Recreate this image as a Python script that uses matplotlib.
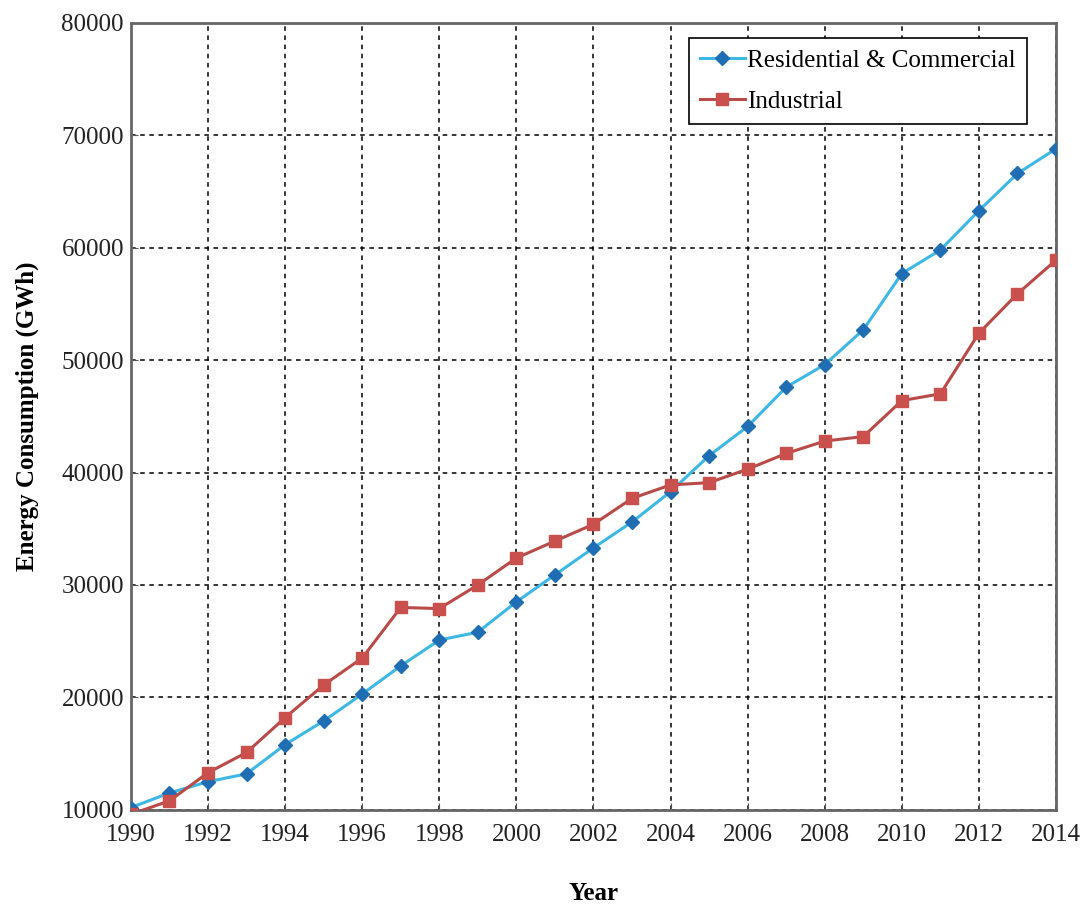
import numpy as np
import matplotlib.pyplot as plt

plt.rcParams['font.family'] = ['Liberation Serif', 'DejaVu Serif']

# Values (GWh)
years = list(range(1990, 2015))
residential = [10200, 11500, 12500, 13200, 15800, 17900, 20300, 22800, 25100, 25800,
               28500, 30900, 33300, 35600, 38300, 41500, 44100, 47600, 49600, 52700,
               57700, 59800, 63300, 66600, 68800]
industrial = [9600, 10800, 13300, 15100, 18200, 21100, 23500, 28000, 27900, 30000,
              32400, 33900, 35400, 37700, 38900, 39100, 40300, 41700, 42800, 43200,
              46400, 47000, 52400, 55900, 58900]
year_ticks = list(range(1990, 2015, 2))
value_ticks = list(range(10000, 80001, 10000))

fig = plt.figure(figsize=(10.82, 9.14), dpi=100)
ax = fig.add_axes([0.121, 0.114, 0.855, 0.861])

ax.plot(years, residential, color='#3db7e4', lw=2.2, marker='D', ms=7,
        mfc='#1f6db3', mec='#1f6db3', label='Residential & Commercial', zorder=3)
ax.plot(years, industrial, color='#b84a47', lw=2.2, marker='s', ms=8,
        mfc='#c9504c', mec='#c9504c', label='Industrial', zorder=3)

ax.set_xlim(1990, 2014)
ax.set_ylim(10000, 80000)
ax.set_xticks(year_ticks)
ax.set_yticks(value_ticks)
ax.tick_params(direction='in', labelsize=18, length=5, color='#555555',
               labelcolor='#222222')
ax.tick_params(axis='x', pad=10)
ax.tick_params(axis='y', pad=5)
ax.grid(True, color='black', linestyle=(0, (3, 3)), lw=1.1)

for s in ax.spines.values():
    s.set_color('#666666')
    s.set_linewidth(2)

ax.set_xlabel('Year', fontsize=18, fontweight='bold', labelpad=26)
ax.set_ylabel('Energy Consumption (GWh)', fontsize=18, fontweight='bold', labelpad=16)

leg = ax.legend(loc='upper right', bbox_to_anchor=(0.969, 0.981), borderaxespad=0,
                fontsize=18, frameon=True, fancybox=False, handlelength=1.8,
                handletextpad=0.1, borderpad=0.45, labelspacing=0.75)
leg.get_frame().set_edgecolor('black')
leg.get_frame().set_linewidth(1.2)
leg.get_frame().set_alpha(1)

fig.savefig('out.png', dpi=100)
